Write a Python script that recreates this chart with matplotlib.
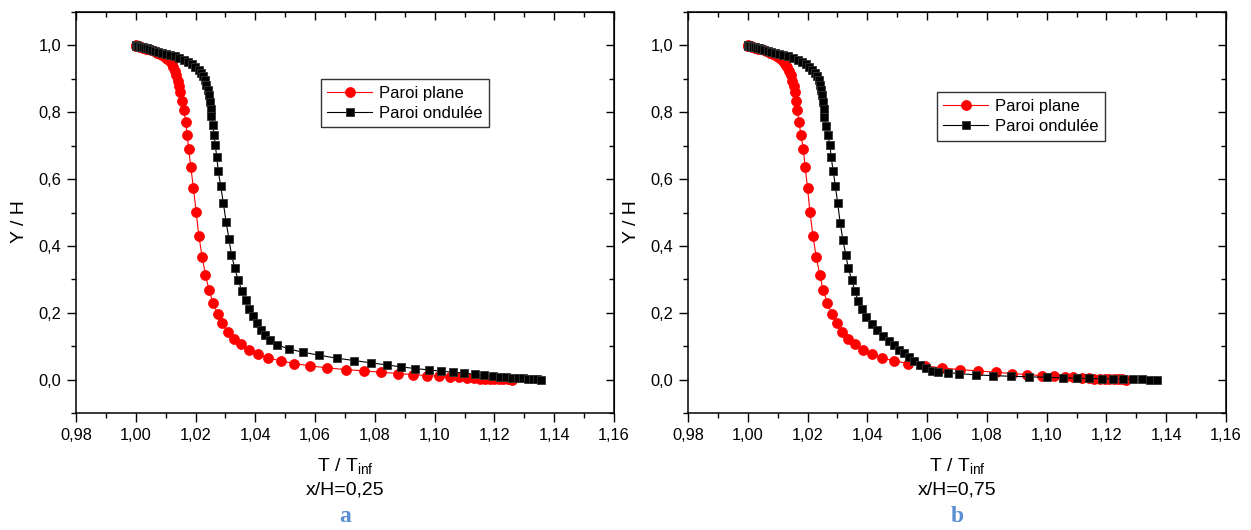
import matplotlib
matplotlib.use("Agg")
import matplotlib.pyplot as plt
from matplotlib.ticker import MultipleLocator, FuncFormatter

plt.rcParams['font.family'] = ['Liberation Sans', 'DejaVu Sans']
plt.rcParams['mathtext.fontset'] = 'custom'
plt.rcParams['mathtext.rm'] = 'Liberation Sans'

# ---- data (T/Tinf vs Y/H) ----
# Paroi plane : same grid in both panels
y_plane = [1.0, 0.9997, 0.9994, 0.999, 0.9986, 0.9981, 0.9975, 0.9968, 0.996, 0.995,
           0.9935, 0.992, 0.990, 0.988, 0.985, 0.982, 0.978, 0.974, 0.970, 0.965,
           0.959, 0.952, 0.944, 0.935, 0.923, 0.910, 0.895, 0.878,
           0.861, 0.833, 0.806, 0.771, 0.733, 0.689, 0.636, 0.573, 0.501, 0.430,
           0.367, 0.314, 0.268, 0.230, 0.196, 0.168, 0.143,
           0.122, 0.105, 0.090, 0.077, 0.065, 0.056, 0.048, 0.041, 0.035, 0.030,
           0.026, 0.022, 0.018, 0.015, 0.012, 0.010, 0.008, 0.0065, 0.005, 0.004,
           0.0032, 0.0025, 0.0019, 0.0014, 0.001, 0.0006, 0.0003, 0.0]

t_plane_a = [1.0000, 1.0001, 1.0002, 1.00035, 1.0005, 1.00065, 1.0009, 1.0011, 1.0014, 1.0018,
             1.0023, 1.0028, 1.0035, 1.0042, 1.0052, 1.0060, 1.0071, 1.0080, 1.0089, 1.0097,
             1.0105, 1.0113, 1.0120, 1.0126, 1.0131, 1.0136, 1.0140, 1.0144,
             1.0148, 1.0154, 1.0161, 1.0167, 1.0172, 1.0177, 1.0184, 1.0193, 1.0202, 1.0211,
             1.0222, 1.0233, 1.0245, 1.0258, 1.0274, 1.0288, 1.0307,
             1.0328, 1.0351, 1.0378, 1.0408, 1.0442, 1.0485, 1.0530, 1.0583, 1.0641, 1.0702,
             1.0763, 1.0821, 1.0877, 1.0928, 1.0974, 1.1015, 1.1052, 1.1082, 1.1108, 1.1132,
             1.1152, 1.1170, 1.1186, 1.1200, 1.1215, 1.1230, 1.1245, 1.1260]

t_plane_b = [1.0000, 1.0001, 1.0002, 1.00035, 1.0005, 1.00065, 1.0009, 1.0011, 1.0014, 1.0018,
             1.0023, 1.0028, 1.0035, 1.0043, 1.0053, 1.0062, 1.0073, 1.0083, 1.0092, 1.0101,
             1.0110, 1.0118, 1.0126, 1.0132, 1.0138, 1.0143, 1.0148, 1.0153,
             1.0157, 1.0161, 1.0166, 1.0171, 1.0178, 1.0186, 1.0192, 1.0200, 1.0208, 1.0218,
             1.0229, 1.0241, 1.0252, 1.0266, 1.0281, 1.0297, 1.0315,
             1.0335, 1.0359, 1.0385, 1.0416, 1.0450, 1.0490, 1.0537, 1.0592, 1.0650, 1.0709,
             1.0769, 1.0829, 1.0885, 1.0935, 1.0983, 1.1024, 1.1062, 1.1089, 1.1117, 1.1140,
             1.1160, 1.1178, 1.1195, 1.1210, 1.1225, 1.1238, 1.1252, 1.1265]

# Paroi ondulee, x/H = 0.25
y_ond_a = [1.0, 0.9995, 0.9988, 0.9978, 0.9967, 0.9955, 0.994, 0.9925, 0.991, 0.989,
           0.9865, 0.984, 0.981, 0.978, 0.975, 0.971, 0.967, 0.962, 0.956, 0.950,
           0.943, 0.936, 0.927, 0.918, 0.908, 0.896, 0.882, 0.867, 0.851, 0.832, 0.811,
           0.788, 0.762, 0.733, 0.701, 0.666, 0.624, 0.580, 0.528, 0.473, 0.420,
           0.374, 0.334, 0.299, 0.265, 0.237, 0.212,
           0.189, 0.168, 0.149, 0.133, 0.118, 0.104, 0.092, 0.082, 0.073, 0.064,
           0.057, 0.050, 0.044, 0.038, 0.033, 0.029, 0.025, 0.022, 0.019, 0.016,
           0.0135, 0.011, 0.009, 0.0075, 0.006, 0.0045, 0.0033, 0.0022, 0.0012, 0.0005, 0.0]

t_ond_a = [1.0000, 1.0002, 1.0005, 1.0009, 1.0013, 1.0018, 1.0024, 1.0030, 1.0036, 1.0044,
           1.0054, 1.0064, 1.0076, 1.0088, 1.0100, 1.0115, 1.0130, 1.0146, 1.0162, 1.0176,
           1.0189, 1.0199, 1.0210, 1.0218, 1.0225, 1.0231, 1.0236, 1.0240, 1.0244, 1.0247, 1.0250,
           1.0252, 1.0257, 1.0262, 1.0266, 1.0271, 1.0276, 1.0284, 1.0293, 1.0302, 1.0312,
           1.0320, 1.0331, 1.0342, 1.0355, 1.0368, 1.0379,
           1.0392, 1.0404, 1.0418, 1.0432, 1.0449, 1.0473, 1.0511, 1.0558, 1.0614, 1.0672,
           1.0731, 1.0787, 1.0839, 1.0888, 1.0935, 1.0980, 1.1022, 1.1062, 1.1099, 1.1134,
           1.1166, 1.1194, 1.1218, 1.1240, 1.1260, 1.1278, 1.1295, 1.1312, 1.1328, 1.1343, 1.1357]

# Paroi ondulee, x/H = 0.75
y_ond_b = [1.0, 0.9995, 0.9988, 0.9978, 0.9967, 0.9955, 0.994, 0.9925, 0.991, 0.989,
           0.9865, 0.984, 0.981, 0.978, 0.975, 0.971, 0.967, 0.962, 0.956, 0.950,
           0.943, 0.936, 0.927, 0.918, 0.908, 0.896, 0.882, 0.867, 0.851, 0.832, 0.811,
           0.786, 0.760, 0.732, 0.701, 0.665, 0.623, 0.579, 0.527, 0.470, 0.419,
           0.373, 0.334, 0.298, 0.264, 0.235, 0.210, 0.187, 0.165, 0.147, 0.130,
           0.116, 0.102, 0.090, 0.0785, 0.0666, 0.0546, 0.0427, 0.0337, 0.0269, 0.0239,
           0.0209, 0.0179, 0.014, 0.0119, 0.0099, 0.0082, 0.0067, 0.0054, 0.0043, 0.0034,
           0.0026, 0.0019, 0.0013, 0.0008, 0.0004, 0.0001, 0.0]

t_ond_b = [1.0000, 1.0002, 1.0005, 1.0009, 1.0013, 1.0018, 1.0024, 1.0030, 1.0036, 1.0044,
           1.0055, 1.0066, 1.0079, 1.0091, 1.0104, 1.0119, 1.0134, 1.0151, 1.0167, 1.0181,
           1.0194, 1.0205, 1.0216, 1.0224, 1.0231, 1.0237, 1.0242, 1.0246, 1.0249, 1.0252, 1.0254,
           1.0256, 1.0263, 1.0268, 1.0275, 1.0279, 1.0286, 1.0293, 1.0301, 1.0309, 1.0318,
           1.0328, 1.0336, 1.0348, 1.0359, 1.0369, 1.0382, 1.0397, 1.0415, 1.0433, 1.0453,
           1.0472, 1.0490, 1.0507, 1.0523, 1.0539, 1.0557, 1.0576, 1.0595, 1.0615, 1.0637,
           1.0669, 1.0708, 1.0764, 1.0819, 1.0881, 1.0942, 1.1000, 1.1054, 1.1100, 1.1143,
           1.1184, 1.1223, 1.1256, 1.1290, 1.1318, 1.1346, 1.1368]

panels = [
    ("x/H=0,25", "a", t_plane_a, t_ond_a, y_ond_a, (0.455, 0.833)),
    ("x/H=0,75", "b", t_plane_b, t_ond_b, y_ond_b, (0.462, 0.800)),
]

W, H = 1251, 530
fig = plt.figure(figsize=(W / 100, H / 100), dpi=100)

comma1 = FuncFormatter(lambda v, p: f"{v:.1f}".replace(".", ","))
comma2 = FuncFormatter(lambda v, p: f"{v:.2f}".replace(".", ","))

lefts = [76, 688]
for left_px, (pos_txt, letter, tp, to, yo, leg_xy) in zip(lefts, panels):
    ax = fig.add_axes([left_px / W, (H - 413) / H, 538 / W, 401 / H])

    ax.plot(tp, y_plane, color="red", lw=0.8, marker="o", ms=7.2,
            mfc="red", mec="red", mew=0.5, label="Paroi plane")
    ax.plot(to, yo, color="black", lw=0.8, marker="s", ms=5.6,
            mfc="black", mec="#333333", mew=0.6, label="Paroi ondulée")

    ax.set_xlim(0.98, 1.16)
    ax.set_ylim(-0.1, 1.1)
    ax.xaxis.set_major_locator(MultipleLocator(0.02))
    ax.xaxis.set_minor_locator(MultipleLocator(0.01))
    ax.yaxis.set_major_locator(MultipleLocator(0.2))
    ax.yaxis.set_minor_locator(MultipleLocator(0.1))
    ax.xaxis.set_major_formatter(comma2)
    ax.yaxis.set_major_formatter(comma1)

    ax.tick_params(axis="both", which="major", direction="out", length=6.5,
                   width=1.0, labelsize=11.8, pad=4)
    ax.tick_params(axis="both", which="minor", direction="out", length=3.5, width=1.0)
    for sp in ax.spines.values():
        sp.set_linewidth(1.1)

    # inward ticks on top/right
    sx = ax.secondary_xaxis("top")
    sy = ax.secondary_yaxis("right")
    for sec in (sx, sy):
        sec.tick_params(which="major", direction="in", length=6, width=1.0, labelsize=0)
        sec.tick_params(which="minor", direction="in", length=3.5, width=1.0)
    sx.xaxis.set_major_locator(MultipleLocator(0.02))
    sx.xaxis.set_minor_locator(MultipleLocator(0.01))
    sx.xaxis.set_major_formatter(FuncFormatter(lambda v, p: ""))
    sy.yaxis.set_major_locator(MultipleLocator(0.2))
    sy.yaxis.set_minor_locator(MultipleLocator(0.1))
    sy.yaxis.set_major_formatter(FuncFormatter(lambda v, p: ""))

    leg = ax.legend(loc="upper left", bbox_to_anchor=leg_xy, borderaxespad=0,
                    fontsize=12, frameon=True, fancybox=False, edgecolor="black",
                    handlelength=2.7, handletextpad=0.4, labelspacing=0.3,
                    borderpad=0.4, markerscale=1.0)
    leg.get_frame().set_linewidth(1.0)

    cx = (left_px + 269) / W
    fig.text((left_px - 56) / W, 1 - 222 / H, "Y / H", rotation=90,
             ha="center", va="center", fontsize=14)
    fig.text(cx, 1 - 467 / H, r"T / T$_{\mathrm{inf}}$", ha="center", va="center", fontsize=14)
    fig.text(cx, 1 - 490 / H, pos_txt, ha="center", va="center", fontsize=14)
    fig.text(cx, 1 - 516 / H, letter, ha="center", va="center", fontsize=17,
             fontweight="bold", family=["Liberation Serif", "DejaVu Serif"], color="#5b8fd3")

fig.savefig("out.png", dpi=100)
